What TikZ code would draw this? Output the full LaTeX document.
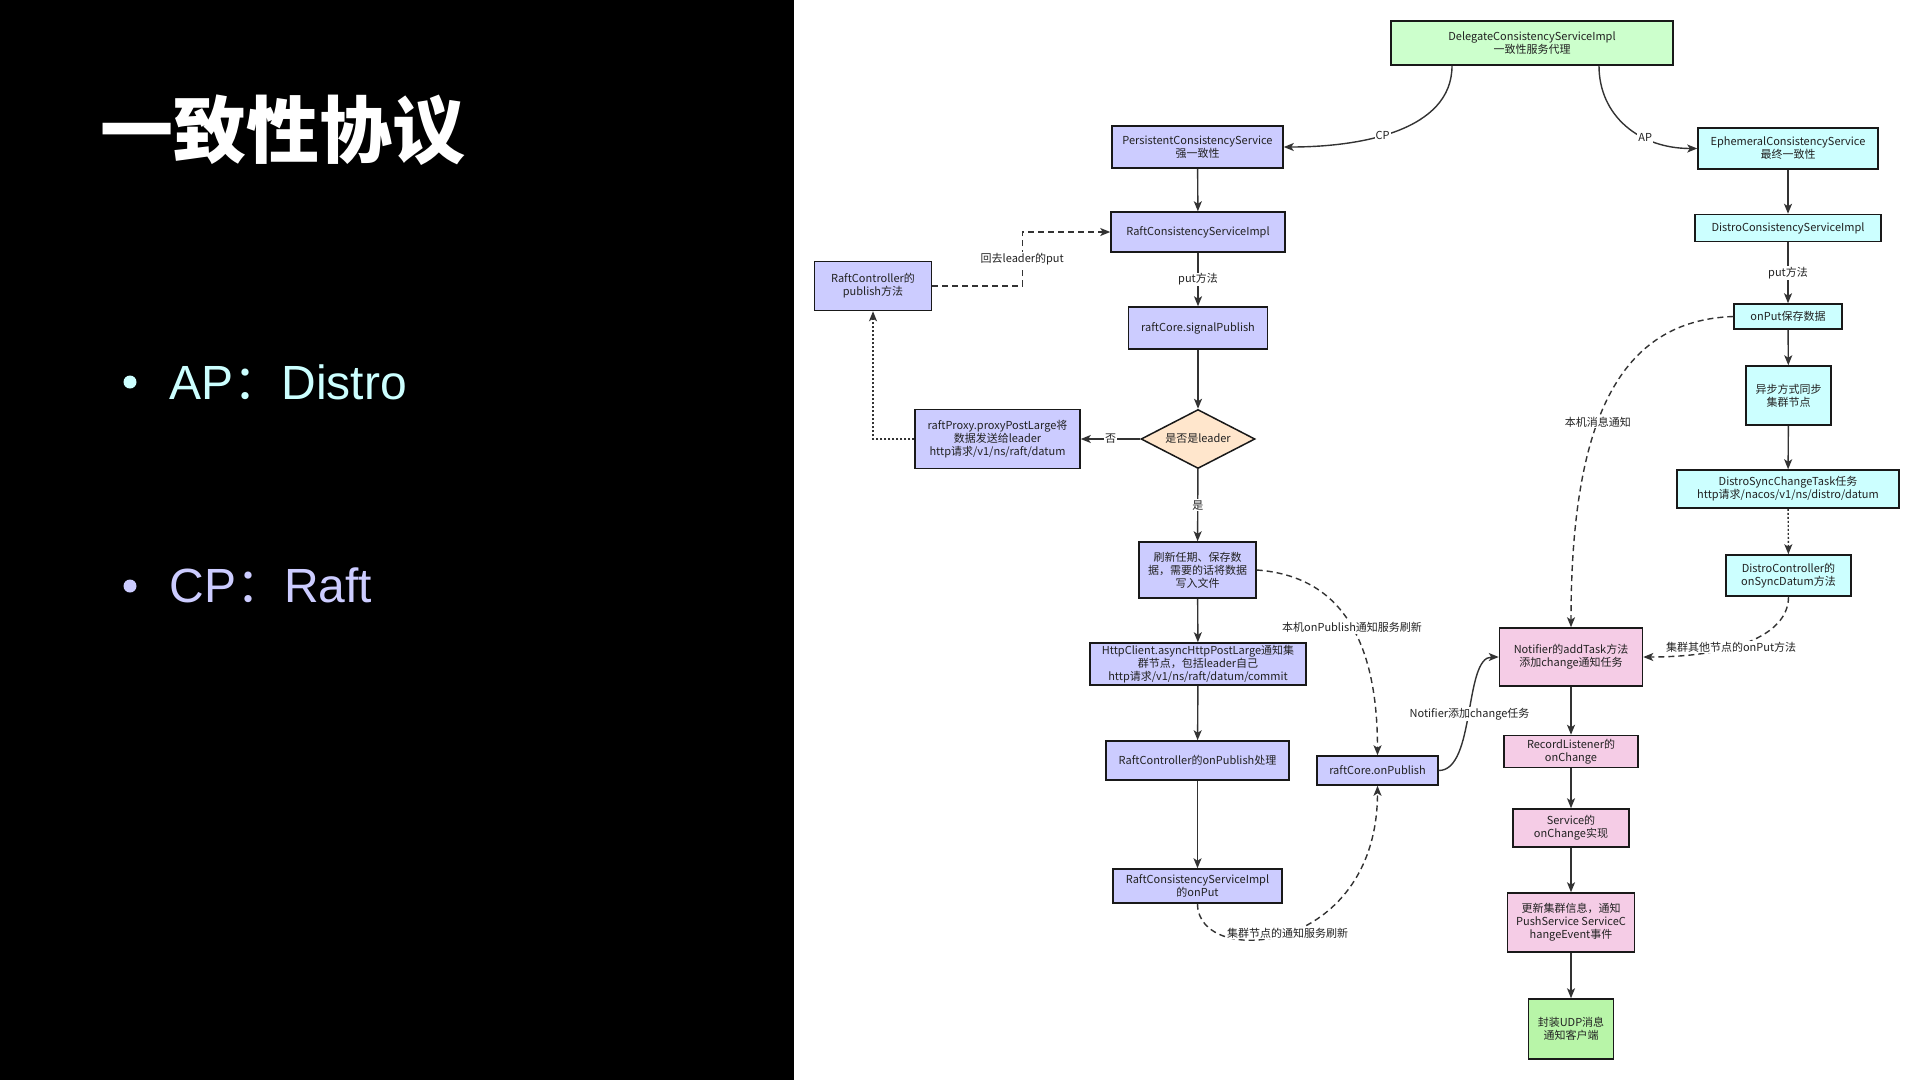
\documentclass[tikz,border=0pt]{standalone}
\usepackage{fontspec}
\setmainfont{Liberation Sans}
\newfontfamily\cjk{Noto Sans CJK SC}
\usetikzlibrary{shapes.geometric,arrows.meta,positioning}

\newlength{\du}
\setlength{\du}{1pt}

\definecolor{raftfill}{HTML}{CCCCFF}
\definecolor{distrofill}{HTML}{CCFFFF}
\definecolor{notifyfill}{HTML}{F5CCE6}
\definecolor{delegfill}{HTML}{CCFFCC}
\definecolor{udpfill}{HTML}{B8F5A8}
\definecolor{choicefill}{HTML}{FFE6CC}
\definecolor{edgecol}{HTML}{333333}
\definecolor{textcol}{HTML}{222222}
\definecolor{apcol}{HTML}{CCFFFF}
\definecolor{cpcol}{HTML}{CCCCFF}

\tikzset{
  box/.style={draw=black!90, line width=1.5pt, align=center, inner sep=1pt,
    text=textcol, font=\cjk\fontsize{11}{13}\selectfont},
  raftbox/.style={box, fill=raftfill},
  distrobox/.style={box, fill=distrofill},
  notifybox/.style={box, fill=notifyfill},
  choice/.style={box, diamond, aspect=2, fill=choicefill},
  flow/.style={draw=edgecol, line width=1.4pt, -{Stealth[length=10pt,width=8pt,inset=2.5pt]}},
  dashflow/.style={flow, dash pattern=on 6pt off 4pt},
  dotflow/.style={flow, dash pattern=on 2pt off 2pt},
  lbl/.style={fill=white, inner sep=1pt, text=textcol, font=\cjk\fontsize{11}{13}\selectfont},
  bulletdot/.style={circle, inner sep=0pt, minimum size=13\du},
}

\begin{document}
\begin{tikzpicture}
\pgftransformxscale{1.000000}
\pgftransformyscale{-1.000000}
\useasboundingbox[fill=white] (0\du,0\du) rectangle (1920\du,1080\du);
\fill[black] (0\du,0\du) rectangle (794\du,1080\du);

% left panel
\node[anchor=west, text=white, font=\cjk\bfseries\fontsize{73}{80}\selectfont] (title) at (97\du,130\du) {一致性协议};
\node[bulletdot, fill=apcol] (apdot) at (130\du,382\du) {};
\node[anchor=base west, text=apcol, font=\fontsize{48}{52}\selectfont] (aptext) at (166\du,399\du) {AP{\cjk：}Distro};
\node[bulletdot, fill=cpcol] (cpdot) at (130\du,586\du) {};
\node[anchor=base west, text=cpcol, font=\fontsize{48}{52}\selectfont] (cptext) at (166\du,602\du) {CP{\cjk：}Raft};

% delegate
\node[box, fill=delegfill, minimum width=282\du, minimum height=44\du] (deleg) at (1532\du,43\du) {DelegateConsistencyServiceImpl\\一致性服务代理};

% raft side
\node[raftbox, minimum width=171\du, minimum height=42\du] (persist) at (1197.5\du,147\du) {PersistentConsistencyService\\强一致性};
\node[raftbox, minimum width=174\du, minimum height=40\du] (rcsi) at (1198\du,232\du) {RaftConsistencyServiceImpl};
\node[raftbox, minimum width=117\du, minimum height=49\du] (ctrlpub) at (873\du,286\du) {RaftController的\\publish方法};
\node[raftbox, minimum width=139\du, minimum height=42\du] (signal) at (1198\du,328\du) {raftCore.signalPublish};
\node[choice, minimum width=114\du, minimum height=59\du] (isleader) at (1198\du,439\du) {是否是leader};
\node[raftbox, minimum width=165\du, minimum height=59\du] (proxy) at (997.5\du,439\du) {raftProxy.proxyPostLarge将\\数据发送给leader\\http请求/v1/ns/raft/datum};
\node[raftbox, minimum width=117\du, minimum height=56\du] (flush) at (1197.5\du,570\du) {刷新任期、保存数\\据，需要的话将数据\\写入文件};
\node[raftbox, minimum width=216\du, minimum height=42\du] (http) at (1198\du,664\du) {HttpClient.asyncHttpPostLarge通知集\\群节点，包括leader自己\\http请求/v1/ns/raft/datum/commit};
\node[raftbox, minimum width=183\du, minimum height=39\du] (onpubctl) at (1197.5\du,760.5\du) {RaftController的onPublish处理};
\node[raftbox, minimum width=169\du, minimum height=34\du] (rcsionput) at (1197.5\du,886\du) {RaftConsistencyServiceImpl\\的onPut};
\node[raftbox, minimum width=121\du, minimum height=29\du] (raftpub) at (1377.5\du,770.5\du) {raftCore.onPublish};

% distro side
\node[distrobox, minimum width=180\du, minimum height=41\du] (ephem) at (1788\du,148.5\du) {EphemeralConsistencyService\\最终一致性};
\node[distrobox, minimum width=186\du, minimum height=27\du] (distro) at (1788\du,228\du) {DistroConsistencyServiceImpl};
\node[distrobox, minimum width=108\du, minimum height=25\du] (onput) at (1788\du,316.5\du) {onPut保存数据};
\node[distrobox, minimum width=85\du, minimum height=59\du] (async) at (1788.5\du,395.5\du) {异步方式同步\\集群节点};
\node[distrobox, minimum width=222\du, minimum height=38\du] (synctask) at (1788\du,489\du) {DistroSyncChangeTask任务\\http请求/nacos/v1/ns/distro/datum};
\node[distrobox, minimum width=125\du, minimum height=41\du] (distroctl) at (1788.5\du,575.5\du) {DistroController的\\onSyncDatum方法};

% notify chain
\node[notifybox, minimum width=143\du, minimum height=58\du] (notifier) at (1571\du,657\du) {Notifier的addTask方法\\添加change通知任务};
\node[notifybox, minimum width=134\du, minimum height=32\du] (record) at (1571\du,751.5\du) {RecordListener的\\onChange};
\node[notifybox, minimum width=116\du, minimum height=38\du] (svc) at (1571\du,828\du) {Service的\\onChange实现};
\node[notifybox, minimum width=127\du, minimum height=59\du] (push) at (1571\du,922.5\du) {更新集群信息，通知\\PushService ServiceC\\hangeEvent事件};
\node[box, fill=udpfill, minimum width=85\du, minimum height=60\du] (udp) at (1571\du,1029\du) {封装UDP消息\\通知客户端};

% connectors
\draw[flow] ([xshift=-80\du]deleg.south) .. controls +(0\du,65\du) and +(77\du,0\du) .. (persist.east) node[lbl,pos=0.57] {CP};
\draw[flow] ([xshift=67\du]deleg.south) .. controls +(0\du,50\du) and +(-58\du,0\du) .. (ephem.west) node[lbl,pos=0.66] {AP};
\draw[flow] (persist) -- (rcsi);
\draw[flow] (rcsi) -- (signal) node[lbl,midway] {put方法};
\draw[dashflow] (ctrlpub.east) -- ++(90\du,0\du) |- (rcsi.west) node[lbl,pos=0.25] {回去leader的put};
\draw[flow] (signal) -- (isleader);
\draw[flow] (isleader) -- (proxy) node[lbl,midway] {否};
\draw[dotflow] (proxy.west) -| (ctrlpub.south);
\draw[flow] (isleader) -- (flush) node[lbl,midway] {是};
\draw[flow] (flush) -- (http);
\draw[flow] (http) -- (onpubctl);
\draw[flow] (onpubctl) -- (rcsionput);
\draw[dashflow] (flush.east) .. controls +(84\du,6\du) and +(0\du,-115\du) .. (raftpub.north) node[lbl,pos=0.53] {本机onPublish通知服务刷新};
\draw[dashflow] (rcsionput.south) .. controls +(0\du,65\du) and +(0\du,170\du) .. (raftpub.south) node[lbl,pos=0.5] {集群节点的通知服务刷新};
\draw[flow] (raftpub.east) .. controls +(37\du,0\du) and +(-35\du,0\du) .. (notifier.west) node[lbl,pos=0.5] {Notifier添加change任务};

\draw[flow] (ephem) -- (distro);
\draw[flow] (distro) -- (onput) node[lbl,midway] {put方法};
\draw[flow] (onput) -- (async);
\draw[flow] (async) -- (synctask);
\draw[dotflow] (synctask) -- (distroctl);
\draw[dashflow] (onput.west) .. controls +(-114\du,4\du) and +(0\du,-207\du) .. (notifier.north) node[lbl,pos=0.58] {本机消息通知};
\draw[dashflow] (distroctl.south) .. controls +(0\du,40\du) and +(85\du,0\du) .. (notifier.east) node[lbl,pos=0.6] {集群其他节点的onPut方法};

\draw[flow] (notifier) -- (record);
\draw[flow] (record) -- (svc);
\draw[flow] (svc) -- (push);
\draw[flow] (push) -- (udp);
\end{tikzpicture}
\end{document}
